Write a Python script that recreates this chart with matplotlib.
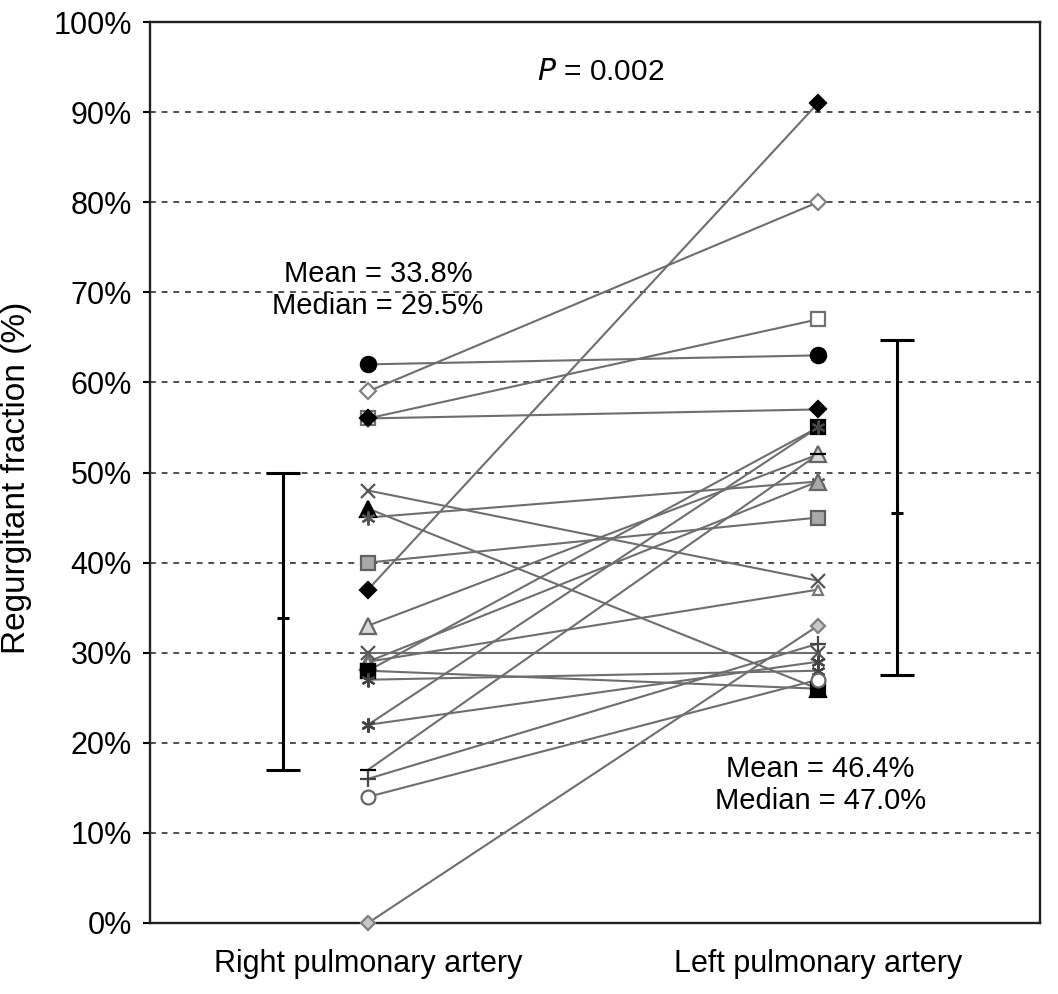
import matplotlib
matplotlib.use("Agg")
import matplotlib.pyplot as plt

plt.rcParams["font.family"] = ["Liberation Sans", "DejaVu Sans"]

# ---- data ----
categories = ["Right pulmonary artery", "Left pulmonary artery"]
rpa_rf = [62, 59, 56, 56, 48, 46, 45, 40, 37, 33, 30,
          29, 29, 28, 28, 27, 22, 22, 17, 16, 14, 0]
lpa_rf = [63, 80, 67, 57, 38, 26, 49, 45, 91, 52, 30,
          49, 37, 55, 26, 28, 55, 29, 52, 31, 27, 33]

err_center = [33.8, 45.5]
err_low = [17.0, 27.5]
err_high = [50.0, 64.7]

p_text = "$\\it{P}$ = 0.002"
stats_rpa = "Mean = 33.8%\nMedian = 29.5%"
stats_lpa = "Mean = 46.4%\nMedian = 47.0%"

yticks = list(range(0, 101, 10))

# ---- marker styles per patient (marker, face, edge, size) ----
BLK = "black"
GRY = "#a9a9a9"
LGT = "#d9d9d9"
WHT = "white"
ASTER = (6, 2, 0)
styles = [
    ("o", BLK, BLK, 11),
    ("D", WHT, "#808080", 8.5),
    ("s", WHT, "#707070", 10),
    ("D", BLK, BLK, 8),
    ("x", "#555555", "#555555", 10),
    ("^", BLK, BLK, 11),
    (ASTER, "#555555", "#555555", 10),
    ("s", GRY, "#606060", 10),
    ("D", BLK, BLK, 8),
    ("^", LGT, "#666666", 11),
    ("x", "#555555", "#555555", 10),
    ("^", GRY, "#666666", 11),
    ("^", WHT, "#777777", 7.5),
    ("s", BLK, BLK, 10),
    ("s", BLK, BLK, 10),
    (ASTER, "#444444", "#444444", 10),
    (ASTER, "#444444", "#444444", 10),
    (ASTER, "#444444", "#444444", 10),
    ("_", BLK, BLK, 11),
    ("+", "#444444", "#444444", 11),
    ("o", WHT, "#666666", 10),
    ("D", "#c8c8c8", "#808080", 7.5),
]

W, H = 1058, 994
fig = plt.figure(figsize=(W / 100, H / 100), dpi=100)
ax = fig.add_axes([150 / W, 1 - 923 / H, 890 / W, 901 / H])

x_r, x_l = 1.0, 2.0

# grid lines
for v in yticks[1:-1]:
    ax.axhline(v, color="#505050", lw=1.4, ls=(0, (3, 3)), zorder=1)

# paired lines
for a, b in zip(rpa_rf, lpa_rf):
    ax.plot([x_r, x_l], [a, b], color="#6e6e6e", lw=1.5, zorder=2)

# markers
for a, b, (m, fc, ec, ms) in zip(rpa_rf, lpa_rf, styles):
    ax.plot([x_r, x_l], [a, b], ls="none", marker=m, ms=ms,
            mfc=fc, mec=ec, mew=1.6, zorder=3, clip_on=False)

# error bars
ex = [x_r - 85 / 450, x_l + 79 / 450]
for xx, c, lo, hi in zip(ex, err_center, err_low, err_high):
    ax.errorbar([xx], [c], yerr=[[c - lo], [hi - c]], fmt="_", color="black",
                ms=9, mew=2.2, elinewidth=2.2, capsize=12, capthick=2.2, zorder=4)

# annotations
ax.text(1.516, 94.4, p_text, ha="center", va="center", fontsize=21.5)
ax.text(1.022, 70.3, stats_rpa, ha="center", va="center", fontsize=21,
        linespacing=1.18)
ax.text(2.005, 15.3, stats_lpa, ha="center", va="center", fontsize=21,
        linespacing=1.18)

# axes
ax.set_xlim(1 - 218 / 450, 2 + 222 / 450)
ax.set_ylim(0, 100)
ax.set_yticks(yticks)
ax.set_yticklabels([f"{v}%" for v in yticks], fontsize=22)
ax.set_xticks([x_r, x_l])
ax.set_xticklabels(categories, fontsize=22)
ax.tick_params(axis="x", length=0, pad=19)
ax.tick_params(axis="y", length=5, width=1.5, direction="out", pad=8)
ax.set_ylabel("Regurgitant fraction (%)", fontsize=24)
ax.yaxis.set_label_coords(-0.133, 0.494)
for s in ax.spines.values():
    s.set_linewidth(1.7)
    s.set_color("#222222")

fig.savefig("out.png", dpi=100)
